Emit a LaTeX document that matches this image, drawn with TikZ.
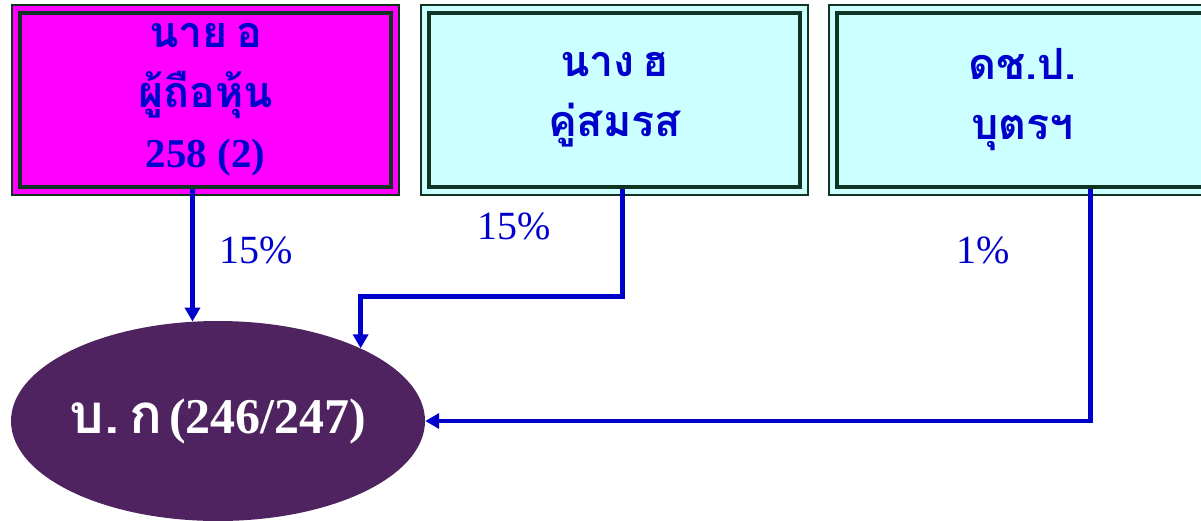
\documentclass[tikz,border=0pt]{standalone}
\usepackage{fontspec}
\setmainfont{Liberation Serif}
\newfontfamily\thaifont[Script=Thai,Scale=1.05,WordSpace=0.55]{Loma}
\usetikzlibrary{shapes.geometric,arrows.meta,backgrounds}
\definecolor{bordergreen}{RGB}{17,51,34}
\definecolor{textblue}{RGB}{0,0,204}
\definecolor{boxmagenta}{RGB}{255,0,255}
\definecolor{boxcyan}{RGB}{204,255,255}
\definecolor{ellpurple}{RGB}{79,35,96}
\tikzset{
  personbox/.style={rectangle, draw=bordergreen, line width=4pt, fill=#1,
    minimum width=371pt, minimum height=174pt, inner sep=0pt, align=center,
    text=textblue, font=\bfseries\fontsize{41}{60}\selectfont},
  outerframe/.style={draw=bordergreen, line width=2pt, fill=#1},
  conn/.style={draw=textblue, line width=4.5pt, -{Triangle[width=15pt,length=14pt]}},
  pct/.style={text=textblue, font=\fontsize{40}{44}\selectfont, inner sep=0pt},
  company/.style={ellipse, fill=ellpurple, minimum width=414pt, minimum height=200pt,
    inner xsep=-60pt, inner ysep=0pt, text=white, font=\bfseries\fontsize{50}{52}\selectfont}
}
\begin{document}
\begin{tikzpicture}[x=1pt,y=-1pt]
\useasboundingbox (0,0) rectangle (1201,520);
\node[personbox=boxmagenta] (b1) at (205.5,100) {{\thaifont นาย อ}\\{\thaifont ผู้ถือหุ้น}\\258 (2)};
\node[personbox=boxcyan] (b2) at (614.5,99.5) {{\thaifont นาง ฮ}\\{\thaifont คู่สมรส}};
\node[personbox=boxcyan] (b3) at (1022.5,99.5) {{\thaifont ดช.ป.}\\{\thaifont บุตรฯ}};
\begin{scope}[on background layer]
\foreach \b/\c in {b1/boxmagenta,b2/boxcyan,b3/boxcyan}
  \path[outerframe=\c] ([shift={(-6,-6)}]\b.north west) rectangle ([shift={(6,6)}]\b.south east);
\end{scope}
\node[company] (ell) at (218,421) {{\thaifont\fontsize{52}{56}\selectfont บ.\hspace{10pt}ก}\hspace{7pt}(246/247)\hspace{10pt}};
\draw[conn] ([xshift=-13pt]b1.south) -- ([xshift=-13pt]b1.south |- ell.104.7);
\draw[conn] ([xshift=8pt]b2.south) -- ++(0,108) -| (ell.27.9);
\draw[conn] ([xshift=68pt]b3.south) |- (ell.east);
\node[pct] (p1) at (256,250) {15\%};
\node[pct] (p2) at (514,226) {15\%};
\node[pct] (p3) at (983,250) {1\%};
\end{tikzpicture}
\end{document}
